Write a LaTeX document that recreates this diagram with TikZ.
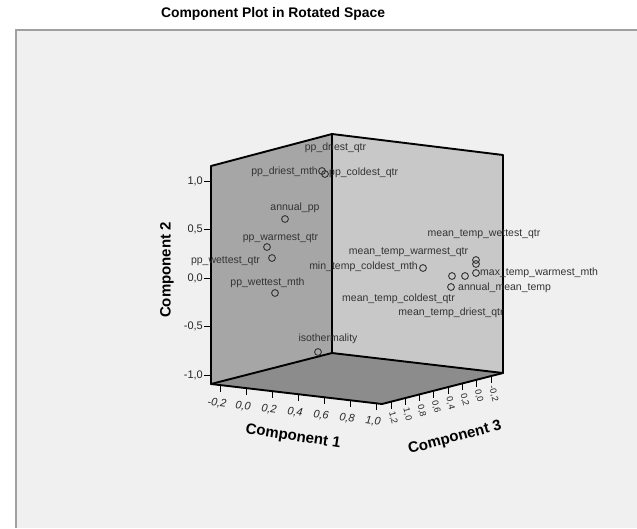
\documentclass[tikz,border=0pt]{standalone}
\usepackage{fontspec}
\setmainfont{Liberation Sans}
\definecolor{bgc}{HTML}{F0F0F0}
\definecolor{framec}{HTML}{A0A0A0}
\definecolor{leftwall}{HTML}{A6A6A6}
\definecolor{rightwall}{HTML}{C8C8C8}
\definecolor{floorc}{HTML}{8C8C8C}
\definecolor{labc}{HTML}{333333}
\tikzset{
  edge/.style={draw=black, line width=1.9pt, line join=round, line cap=round},
  tickline/.style={draw=black, line width=1pt},
  pt/.style={draw=labc, line width=0.9pt, fill=none},
  lab/.style={text=labc, inner sep=0pt, font=\fontsize{10.5}{12}\selectfont},
  ticklab/.style={text=black!85, inner sep=0pt, font=\fontsize{11}{12}\selectfont},
  ztick/.style={text=black!85, inner sep=0pt, font=\fontsize{9}{10}\selectfont},
  axtitle/.style={text=black, inner sep=0pt, font=\fontsize{15}{17}\bfseries},
}
\begin{document}
\begin{tikzpicture}[x=1pt,y=-1pt]
\useasboundingbox (0,0) rectangle (637,528);
\fill[white] (0,0) rectangle (637,528);
% frame
\fill[bgc] (16,30) rectangle (637,528);
\draw[framec, line width=1.2pt] (16,528) -- (16,30) -- (637,30);
% title
\node[inner sep=0pt, font=\fontsize{13.9}{16}\bfseries] (title) at (273,14) {Component Plot in Rotated Space};
% box corners
\coordinate (L) at (211,384);
\coordinate (B) at (332,353);
\coordinate (R) at (503,373);
\coordinate (F) at (382,404);
\coordinate (Lt) at (211,166);
\coordinate (Bt) at (332,134);
\coordinate (Rt) at (503,155);
\fill[leftwall] (L) -- (Lt) -- (Bt) -- (B) -- cycle;
\fill[rightwall] (B) -- (Bt) -- (Rt) -- (R) -- cycle;
\fill[floorc] (L) -- (B) -- (R) -- (F) -- cycle;
\draw[edge] (L) -- (Lt) -- (Bt) -- (Rt) -- (R) -- (F) -- cycle;
\draw[edge] (Bt) -- (B);
\draw[edge] (L) -- (B) -- (R);
% Y axis ticks (Component 2)
\foreach \v/\t in {-1/{-1,0},-0.5/{-0,5},0/{0,0},0.5/{0,5},1/{1,0}}{
  \pgfmathsetmacro{\yy}{278-97*\v}
  \draw[tickline] (204,\yy) -- (211,\yy);
  \node[ticklab, anchor=east] at (203,\yy) {\t};
}
\node[axtitle, rotate=90] (c2) at (167,270) {Component 2};
% X axis ticks (Component 1)
\foreach \v/\t in {-0.2/{-0,2},0/{0,0},0.2/{0,2},0.4/{0,4},0.6/{0,6},0.8/{0,8},1.0/{1,0}}{
  \pgfmathsetmacro{\xx}{220+(\v+0.2)*130}
  \pgfmathsetmacro{\ye}{384+(\xx-211)*20/171}
  \draw[tickline] (\xx,\ye) -- (\xx,\ye+7);
  \node[ticklab, rotate=-7, font=\fontsize{11}{12}\itshape] at (\xx-3,\ye+18) {\t};
}
\node[axtitle, rotate=-9] (c1) at (293,437) {Component 1};
% Z axis ticks (Component 3)
\foreach \v/\t in {1.2/{1,2},1.0/{1,0},0.8/{0,8},0.6/{0,6},0.4/{0,4},0.2/{0,2},0/{0,0},-0.2/{-0,2}}{
  \pgfmathsetmacro{\xx}{391+(1.2-\v)*71.5}
  \pgfmathsetmacro{\ye}{404-(\xx-382)*31/121}
  \draw[tickline] (\xx,\ye) -- (\xx,\ye+7);
  \node[ztick, rotate=-76, anchor=west] at (\xx+0.5,\ye+10) {\t};
}
\node[axtitle, rotate=15] (c3) at (455,438) {Component 3};
% data points
\foreach \n/\p in {a/{322,171},b/{325,174},c/{285,219},d/{267,247},e/{272,258},f/{275,293},g/{318,352},h/{423,268},i/{476,260},j/{476,264},k/{476,273},l/{452,276},m/{465,276},n/{451,287}}{
  \draw[pt] (\p) circle (3.4);
}
% labels
\node[lab] (l1) at (335.5,148) {pp\_driest\_qtr};
\node[lab, anchor=east] (l2) at (318,172) {pp\_driest\_mth};
\node[lab, anchor=west] (l3) at (329,173) {pp\_coldest\_qtr};
\node[lab] (l4) at (295,208) {annual\_pp};
\node[lab] (l5) at (280.5,238) {pp\_warmest\_qtr};
\node[lab] (l6) at (225.5,261) {pp\_wettest\_qtr};
\node[lab] (l7) at (267.5,283) {pp\_wettest\_mth};
\node[lab] (l8) at (328,339) {isothermality};
\node[lab] (l9) at (484,234) {mean\_temp\_wettest\_qtr};
\node[lab] (l10) at (408.5,252) {mean\_temp\_warmest\_qtr};
\node[lab, anchor=east] (l11) at (418,267) {min\_temp\_coldest\_mth};
\node[lab, anchor=west] (l12) at (480,273) {max\_temp\_warmest\_mth};
\node[lab, anchor=west] (l13) at (458,288) {annual\_mean\_temp};
\node[lab] (l14) at (398.5,299) {mean\_temp\_coldest\_qtr};
\node[lab] (l15) at (451,313) {mean\_temp\_driest\_qtr};
\end{tikzpicture}
\end{document}
